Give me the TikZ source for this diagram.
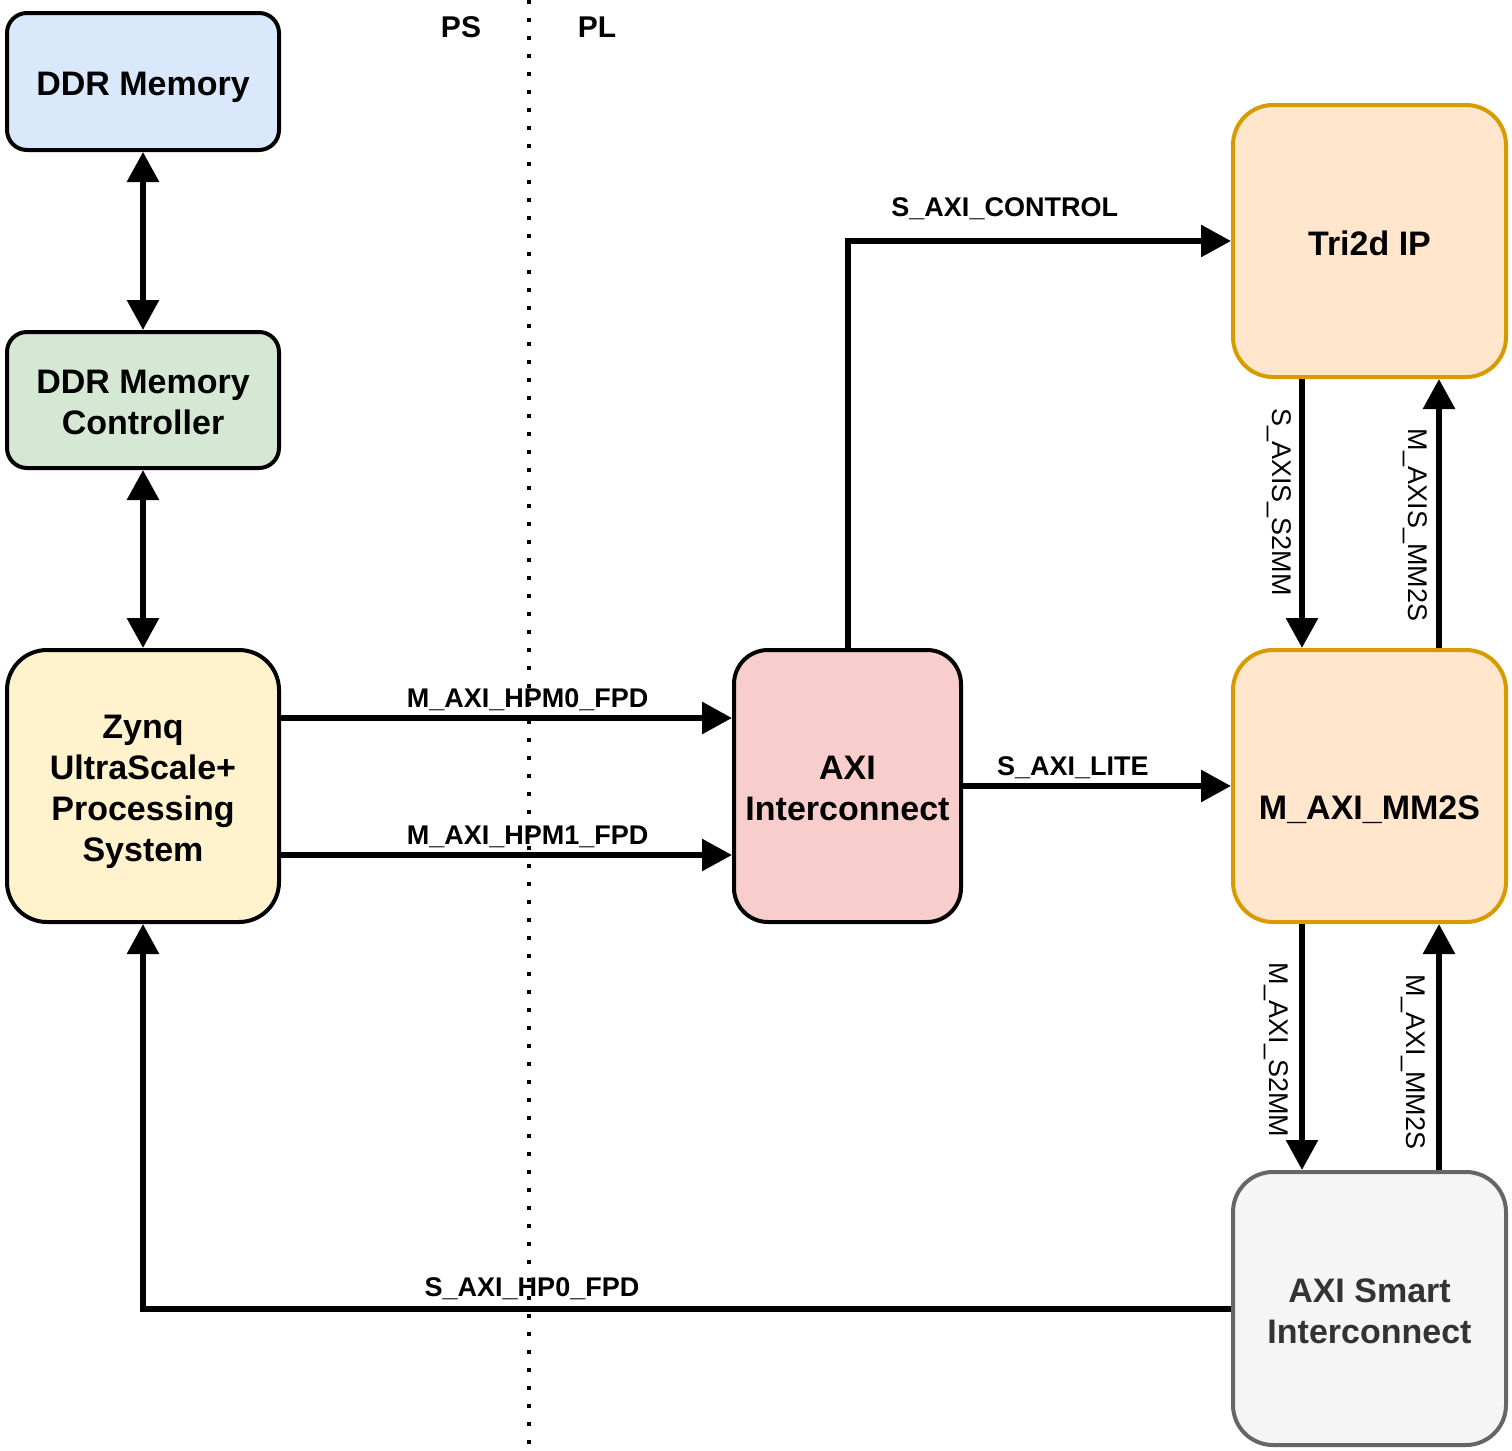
\documentclass[tikz,border=0pt]{standalone}
\usepackage{fontspec}
\setmainfont{Liberation Sans}
\usetikzlibrary{arrows.meta,calc}
\definecolor{ddrfill}{HTML}{DAE8FC}
\definecolor{ctrlfill}{HTML}{D5E8D4}
\definecolor{zynqfill}{HTML}{FFF2CC}
\definecolor{axifill}{HTML}{F8CECC}
\definecolor{orfill}{HTML}{FFE6CC}
\definecolor{orline}{HTML}{D79B00}
\definecolor{grfill}{HTML}{F5F5F5}
\definecolor{grline}{HTML}{666666}
\definecolor{grtext}{HTML}{333333}
\tikzset{
  blk/.style={draw=black, line width=2pt, rounded corners=#1, inner sep=0pt},
  blk/.default=20pt,
  btxt/.style={align=center, inner sep=0pt, font=\fontsize{17}{20.5}\selectfont\bfseries},
  conn/.style={line width=3pt, -{Triangle[length=15pt,width=15.5pt]}},
  biconn/.style={line width=3pt, {Triangle[length=15pt,width=15.5pt]}-{Triangle[length=15pt,width=15.5pt]}},
  lbl/.style={font=\fontsize{13.5}{16}\selectfont\bfseries, inner sep=1pt},
  vlbl/.style={font=\fontsize{13.5}{16}\selectfont, inner sep=1pt, rotate=-90},
  hdr/.style={font=\fontsize{15}{17}\selectfont\bfseries},
}
\begin{document}
\begin{tikzpicture}[x=0.5pt,y=-0.5pt]
\useasboundingbox (0,0) rectangle (1512,1451);
% blocks
\node[blk=10pt, fill=ddrfill, minimum width=136pt, minimum height=68.5pt] (ddr) at (143,81.5) {};
\node[blk=10pt, fill=ctrlfill, minimum width=136pt, minimum height=68pt] (ctrl) at (143,400) {};
\node[blk=20pt, fill=zynqfill, minimum width=136pt, minimum height=136pt] (zynq) at (143,786) {};
\node[blk=17pt, fill=axifill, minimum width=113.5pt, minimum height=136pt] (axi) at (847.5,786) {};
\node[blk=20pt, draw=orline, fill=orfill, minimum width=136.5pt, minimum height=136pt] (tri) at (1369.5,241) {};
\node[blk=20pt, draw=orline, fill=orfill, minimum width=136.5pt, minimum height=136pt] (mm2s) at (1369.5,786) {};
\node[blk=20pt, draw=grline, fill=grfill, minimum width=136.5pt, minimum height=136.5pt] (smart) at (1369.5,1308.5) {};
% block texts
\node[btxt] (ddr-t) at ($(ddr.center)+(0,6)$) {DDR Memory};
\node[btxt] (ctrl-t) at ($(ctrl.center)+(0,2)$) {DDR Memory\\Controller};
\node[btxt] (zynq-t) at ($(zynq.center)+(0,6)$) {Zynq\\UltraScale+\\Processing\\System};
\node[btxt] (axi-t) at ($(axi.center)+(0,2.5)$) {AXI\\Interconnect};
\node[btxt] (tri-t) at ($(tri.center)+(0,2)$) {Tri2d IP};
\node[btxt] (mm2s-t) at ($(mm2s.center)+(0,24)$) {M\_AXI\_MM2S};
\node[btxt, text=grtext] (smart-t) at ($(smart.center)+(0,3)$) {AXI Smart\\Interconnect};
% helper coordinates
\coordinate (yA) at (0,718);
\coordinate (yB) at (0,855);
\coordinate (xL) at (1302,0);
\coordinate (xR) at (1439,0);
% connectors
\draw[biconn] (ddr.south) -- (ctrl.north);
\draw[biconn] (ctrl.south) -- (zynq.north);
\draw[conn] (zynq.east |- yA) -- node[lbl, above=1pt, pos=0.547] {M\_AXI\_HPM0\_FPD} (axi.west |- yA);
\draw[conn] (zynq.east |- yB) -- node[lbl, above=1pt, pos=0.547] {M\_AXI\_HPM1\_FPD} (axi.west |- yB);
\draw[conn] (axi.north) |- node[lbl, pos=0.705, above=8pt] {S\_AXI\_CONTROL} (tri.west);
\draw[conn] (axi.east) -- node[lbl, above=1pt, pos=0.41] {S\_AXI\_LITE} (mm2s.west);
\draw[conn] (tri.south -| xL) -- (mm2s.north -| xL);
\draw[conn] (mm2s.north -| xR) -- (tri.south -| xR);
\draw[conn] (mm2s.south -| xL) -- (smart.north -| xL);
\draw[conn] (smart.north -| xR) -- (mm2s.south -| xR);
\draw[conn] (smart.west) -| (zynq.south);
\node[vlbl] (l1) at (1279,502) {S\_AXIS\_S2MM};
\node[vlbl] (l2) at (1415,525) {M\_AXIS\_MM2S};
\node[vlbl] (l3) at (1276,1050) {M\_AXI\_S2MM};
\node[vlbl] (l4) at (1413,1062) {M\_AXI\_MM2S};
\node[lbl, anchor=south] (hp0) at (532,1302) {S\_AXI\_HP0\_FPD};
% PS / PL divider
\coordinate (dtop) at (529,0);
\coordinate (dbot) at (529,1445);
\draw[line width=2pt, dash pattern=on 2pt off 7pt] (dtop) -- (dbot);
\node[hdr] (ps) at (461,27) {PS};
\node[hdr] (pl) at (597,27) {PL};
\end{tikzpicture}
\end{document}
